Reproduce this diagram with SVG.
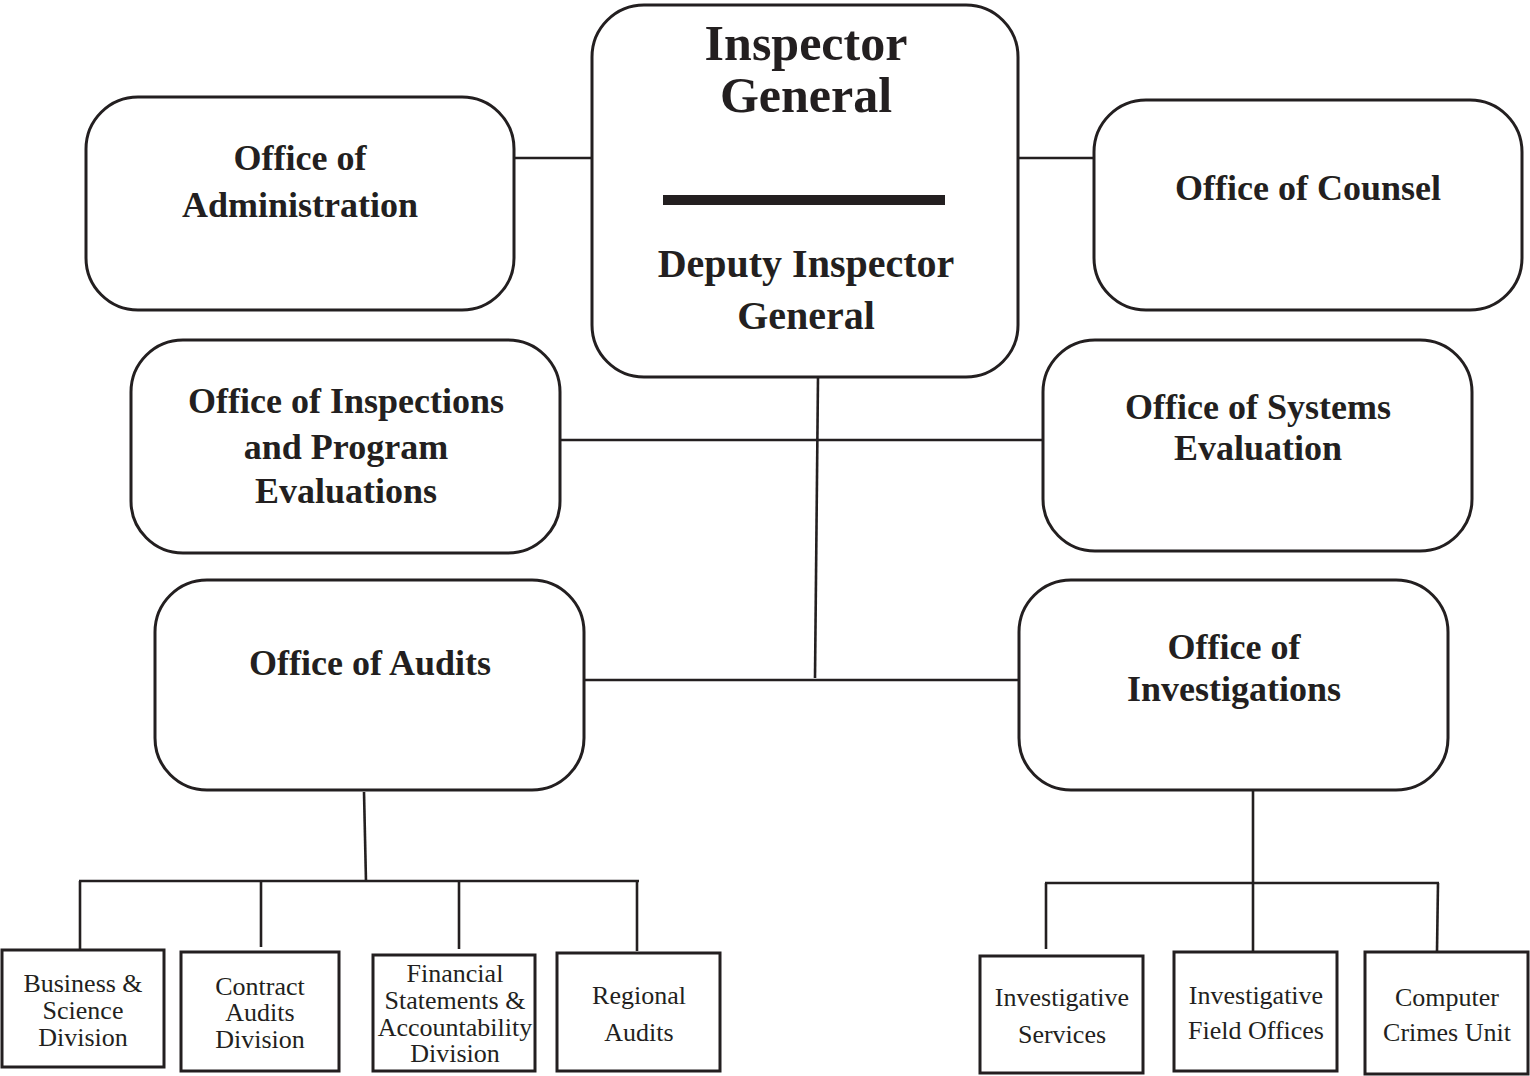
<svg xmlns="http://www.w3.org/2000/svg" width="1530" height="1076" viewBox="0 0 1530 1076">
<style>
.big{fill:#fff;stroke:#231f20;stroke-width:3}
.small{fill:#fff;stroke:#231f20;stroke-width:3}
.conn line{stroke:#231f20;stroke-width:2.6;stroke-linecap:butt}
.t{font-family:"Liberation Serif",serif;font-weight:bold;fill:#231f20;text-anchor:middle}
.s{font-family:"Liberation Serif",serif;font-size:26px;fill:#231f20;text-anchor:middle}
</style>
<rect width="1530" height="1076" fill="#fff"/>
<g id="connectors" class="conn">
<line x1="514" y1="158" x2="592" y2="158"/>
<line x1="1018" y1="158" x2="1094" y2="158"/>
<line x1="818" y1="377" x2="815" y2="678"/>
<line x1="560" y1="440" x2="1043" y2="440"/>
<line x1="584" y1="680" x2="1019" y2="680"/>
<line x1="364" y1="792" x2="366" y2="882"/>
<line x1="79" y1="881" x2="639" y2="881"/>
<line x1="80" y1="881" x2="80" y2="949"/>
<line x1="261" y1="881" x2="261" y2="947"/>
<line x1="459" y1="881" x2="459" y2="949"/>
<line x1="637" y1="881" x2="637" y2="951"/>
<line x1="1253" y1="790" x2="1253" y2="952"/>
<line x1="1045" y1="883" x2="1439" y2="883"/>
<line x1="1046" y1="883" x2="1046" y2="949"/>
<line x1="1438" y1="883" x2="1437" y2="951"/>
</g>
<g id="inspector-general">
<rect class="big" x="592" y="5" width="426" height="372" rx="52"/>
<text class="t" x="806" y="60" font-size="50" font-weight="normal">Inspector</text>
<text class="t" x="806" y="112" font-size="50" font-weight="normal">General</text>
<rect x="663" y="195" width="282" height="10" fill="#231f20"/>
<text class="t" x="806" y="277" font-size="40">Deputy Inspector</text>
<text class="t" x="806" y="329" font-size="40">General</text>
</g>
<g id="office-administration">
<rect class="big" x="86" y="97" width="428" height="213" rx="52"/>
<text class="t" x="300" y="170" font-size="36">Office of</text>
<text class="t" x="300" y="217" font-size="36">Administration</text>
</g>
<g id="office-counsel">
<rect class="big" x="1094" y="100" width="428" height="210" rx="52"/>
<text class="t" x="1308" y="200" font-size="36">Office of Counsel</text>
</g>
<g id="office-inspections">
<rect class="big" x="131" y="340" width="429" height="213" rx="52"/>
<text class="t" x="346" y="413" font-size="36">Office of Inspections</text>
<text class="t" x="346" y="459" font-size="36">and Program</text>
<text class="t" x="346" y="503" font-size="36">Evaluations</text>
</g>
<g id="office-systems">
<rect class="big" x="1043" y="340" width="429" height="211" rx="52"/>
<text class="t" x="1258" y="419" font-size="36">Office of Systems</text>
<text class="t" x="1258" y="460" font-size="36">Evaluation</text>
</g>
<g id="office-audits">
<rect class="big" x="155" y="580" width="429" height="210" rx="52"/>
<text class="t" x="370" y="675" font-size="36">Office of Audits</text>
</g>
<g id="office-investigations">
<rect class="big" x="1019" y="580" width="429" height="210" rx="52"/>
<text class="t" x="1234" y="659" font-size="36">Office of</text>
<text class="t" x="1234" y="701" font-size="36">Investigations</text>
</g>
<g id="business-science">
<rect class="small" x="2" y="950" width="162" height="117"/>
<text class="s" x="83" y="992">Business &amp;</text>
<text class="s" x="83" y="1019">Science</text>
<text class="s" x="83" y="1046">Division</text>
</g>
<g id="contract-audits">
<rect class="small" x="181" y="952" width="158" height="119"/>
<text class="s" x="260" y="995">Contract</text>
<text class="s" x="260" y="1021">Audits</text>
<text class="s" x="260" y="1048">Division</text>
</g>
<g id="financial-statements">
<rect class="small" x="373" y="955" width="162" height="116"/>
<text class="s" x="455" y="982">Financial</text>
<text class="s" x="455" y="1009">Statements &amp;</text>
<text class="s" x="455" y="1036">Accountability</text>
<text class="s" x="455" y="1062">Division</text>
</g>
<g id="regional-audits">
<rect class="small" x="557" y="953" width="163" height="118"/>
<text class="s" x="639" y="1004">Regional</text>
<text class="s" x="639" y="1041">Audits</text>
</g>
<g id="investigative-services">
<rect class="small" x="980" y="956" width="163" height="117"/>
<text class="s" x="1062" y="1006">Investigative</text>
<text class="s" x="1062" y="1043">Services</text>
</g>
<g id="investigative-field-offices">
<rect class="small" x="1174" y="952" width="163" height="119"/>
<text class="s" x="1256" y="1004">Investigative</text>
<text class="s" x="1256" y="1039">Field Offices</text>
</g>
<g id="computer-crimes">
<rect class="small" x="1365" y="952" width="163" height="122"/>
<text class="s" x="1447" y="1006">Computer</text>
<text class="s" x="1447" y="1041">Crimes Unit</text>
</g>
</svg>
